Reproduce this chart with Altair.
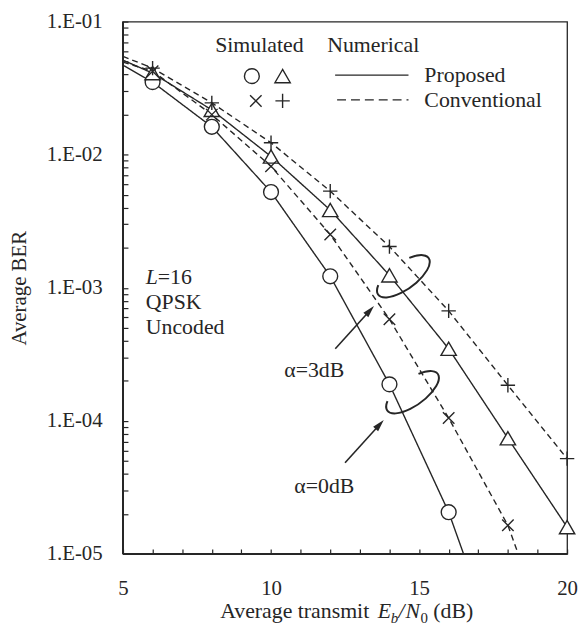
import altair as alt
import pandas as pd

FONT = "Liberation Serif"
INK = "#262626"
W, H = 448, 537

# ---- simulated points (Eb/N0 in dB, average BER) ----
sim_x = [6, 8, 10, 12, 14, 16, 18, 20]
sim_prop_a0 = [0.0351, 0.0162, 0.00524, 0.00122, 0.000188, 0.0000206]
sim_conv_a0 = [0.0424, 0.0200, 0.00817, 0.00251, 0.00058, 0.000105, 0.0000164]
sim_prop_a3 = [0.041, 0.0217, 0.0097, 0.00384, 0.00124, 0.000348, 0.000074, 0.0000159]
sim_conv_a3 = [0.0447, 0.0245, 0.0123, 0.00532, 0.00204, 0.00067, 0.000185, 0.000052]

# ---- numerical curves ----
num_prop_a0_x = [5, 6, 8, 10, 12, 14, 16, 17]
num_prop_a0 = [0.047, 0.0351, 0.0162, 0.00524, 0.00122, 0.000188, 0.0000206, 0.0000049]
num_conv_a0_x = [5, 6, 8, 10, 12, 14, 16, 18, 19]
num_conv_a0 = [0.0496, 0.0424, 0.0200, 0.00817, 0.00251, 0.00058, 0.000105, 0.0000164, 0.000004]
num_prop_a3_x = [5, 6, 8, 10, 12, 14, 16, 18, 20]
num_prop_a3 = [0.0513, 0.041, 0.0217, 0.0097, 0.00384, 0.00124, 0.000348, 0.000074, 0.0000159]
num_conv_a3_x = [5, 6, 8, 10, 12, 14, 16, 18, 20]
num_conv_a3 = [0.0548, 0.0447, 0.0245, 0.0123, 0.00532, 0.00204, 0.00067, 0.000185, 0.000052]

# ---- axis ticks ----
x_ticks = list(range(5, 21))
decades = [1e-5, 1e-4, 1e-3, 1e-2]
y_ticks = [m * d for d in decades for m in range(1, 10)] + [1e-1]

# ---- annotations (data coordinates) ----
ellipse_x = [14.47, 14.78]
ellipse_y = [0.00122, 0.000164]
arrow_x = [12.17, 12.50]
arrow_y = [0.000348, 0.0000484]
arrow_x2 = [13.34, 13.67]
arrow_y2 = [0.000675, 0.0000939]
label_x = [11.46, 11.80]
label_y = [0.000239, 0.0000321]
label_text = ["α=3dB", "α=0dB"]

rows = []
for name, method, xs, ys in [
    ("pa0", "Proposed", num_prop_a0_x, num_prop_a0),
    ("ca0", "Conventional", num_conv_a0_x, num_conv_a0),
    ("pa3", "Proposed", num_prop_a3_x, num_prop_a3),
    ("ca3", "Conventional", num_conv_a3_x, num_conv_a3),
]:
    for xv, yv in zip(xs, ys):
        rows.append({"x": xv, "ber": yv, "method": method, "curve": name})
lines_df = pd.DataFrame(rows)

xscale = alt.Scale(domain=[5, 20], nice=False, zero=False)
yscale = alt.Scale(type="log", domain=[1e-5, 1e-1], nice=False)

xaxis = alt.Axis(
    values=x_ticks, labelExpr="datum.value % 5 === 0 ? datum.label : ''",
    offset=-5, tickSize=5, tickWidth=1.2, tickColor=INK, domain=False, grid=False,
    labelFont=FONT, labelFontSize=21, labelColor=INK, labelPadding=24,
    labelOverlap=False, labelFlush=False, title=None,
)
yaxis = alt.Axis(
    values=y_ticks,
    labelExpr="abs(log(datum.value)/LN10 - round(log(datum.value)/LN10)) < 0.001 ? '1.E-0' + (-round(log(datum.value)/LN10)) : ''",
    offset=-5, tickSize=5, tickWidth=1.2, tickColor=INK, domain=False, grid=False,
    labelFont=FONT, labelFontSize=21, labelColor=INK, labelPadding=21,
    labelOverlap=False, labelFlush=False,
    title="Average BER", titleFont=FONT, titleFontSize=21, titleFontWeight="normal",
    titleColor=INK, titlePadding=17,
)

XE = alt.X("x:Q", scale=xscale, axis=xaxis)
YE = alt.Y("ber:Q", scale=yscale, axis=yaxis)

lines = alt.Chart(lines_df).mark_line(clip=True, strokeWidth=1.4, color=INK).encode(
    x=XE,
    y=YE,
    strokeDash=alt.StrokeDash(
        "method:N",
        scale=alt.Scale(domain=["Proposed", "Conventional"], range=[[1, 0], [6, 4]]),
        legend=None,
    ),
    detail="curve:N",
)

PLUS = "M-1,0L1,0M0,-1L0,1"
CROSS = "M-0.8,-0.8L0.8,0.8M-0.8,0.8L0.8,-0.8"


def markers(vals, shape, size, white=False):
    df = pd.DataFrame({"x": sim_x[: len(vals)], "ber": vals})
    if white:
        m = alt.Chart(df).mark_point(shape=shape, size=size, filled=True, fill="white",
                                     stroke=INK, strokeWidth=1.4, opacity=1)
    else:
        m = alt.Chart(df).mark_point(shape=shape, size=size, filled=False,
                                     stroke=INK, strokeWidth=1.4, opacity=1)
    return m.encode(x=XE, y=YE)


m_pa0 = markers(sim_prop_a0, "circle", 225, white=True)
m_pa3 = markers(sim_prop_a3, "triangle-up", 240, white=True)
m_ca0 = markers(sim_conv_a0, CROSS, 210)
m_ca3 = markers(sim_conv_a3, PLUS, 210)

ELLIPSE = "M0.5,-0.364A1,0.42 0 1 1 -0.819,-0.241"
ell = alt.Chart(pd.DataFrame({"x": ellipse_x, "ber": ellipse_y})).mark_point(
    shape=ELLIPSE, size=3960, angle=324, filled=False, stroke=INK, strokeWidth=2, opacity=1
).encode(x=XE, y=YE)

arrow_df = pd.DataFrame({"x": arrow_x, "ber": arrow_y, "x2": arrow_x2, "ber2": arrow_y2})
arrows = alt.Chart(arrow_df).mark_rule(strokeWidth=1.6, color=INK).encode(
    x=XE, y=YE, x2="x2:Q", y2="ber2:Q"
)
heads = alt.Chart(pd.DataFrame({"x": arrow_x2, "ber": arrow_y2})).mark_point(
    shape="M0,-1L-0.55,1L0.55,1Z", size=150, angle=42, filled=True, color=INK, opacity=1
).encode(x=XE, y=YE)

labels = alt.Chart(pd.DataFrame({"x": label_x, "ber": label_y, "t": label_text})).mark_text(
    font=FONT, fontSize=22, color=INK, align="center", baseline="middle"
).encode(x=XE, y=YE, text="t:N")

one = pd.DataFrame({"a": [0]})


def txt(s, px, py, size=21, italic=False, align="left", baseline="middle"):
    kw = dict(font=FONT, fontSize=size, color=INK, align=align, baseline=baseline, text=s)
    if italic:
        kw["fontStyle"] = "italic"
    return alt.Chart(one).mark_text(**kw).encode(x=alt.value(px), y=alt.value(py))


def pt(shape, px, py, size, white=False):
    if white:
        m = alt.Chart(one).mark_point(shape=shape, size=size, filled=True, fill="white",
                                      stroke=INK, strokeWidth=1.4, opacity=1)
    else:
        m = alt.Chart(one).mark_point(shape=shape, size=size, filled=False,
                                      stroke=INK, strokeWidth=1.4, opacity=1)
    return m.encode(x=alt.value(px), y=alt.value(py))


def hline(x1, x2, py, dash=None):
    kw = dict(color=INK, strokeWidth=1.4)
    if dash:
        kw["strokeDash"] = dash
    return alt.Chart(one).mark_rule(**kw).encode(
        x=alt.value(x1), x2=alt.value(x2), y=alt.value(py)
    )


legend = [
    txt("Simulated", 93, 24, size=22),
    txt("Numerical", 206, 24, size=22),
    pt("circle", 130, 55, 225, white=True),
    pt("triangle-up", 161, 55, 240, white=True),
    pt(CROSS, 134, 80, 210),
    pt(PLUS, 161, 80, 210),
    hline(214, 288, 54),
    hline(216, 288, 79, dash=[9, 5]),
    txt("Proposed", 304, 54, size=22),
    txt("Conventional", 304, 79, size=22),
]

info = [
    txt("L", 23, 258, size=22, italic=True),
    txt("=16", 35, 258, size=22),
    txt("QPSK", 23, 283, size=22),
    txt("Uncoded", 23, 308, size=22),
]

TY = 602
xtitle = [
    txt("Average transmit", 98, TY, size=22, baseline="alphabetic"),
    txt("E", 257, TY, size=22, italic=True, baseline="alphabetic"),
    txt("b", 270, TY + 5, size=15, italic=True, baseline="alphabetic"),
    txt("/", 278, TY, size=22, italic=True, baseline="alphabetic"),
    txt("N", 285, TY, size=22, italic=True, baseline="alphabetic"),
    txt("0", 300, TY + 5, size=15, baseline="alphabetic"),
    txt("(dB)", 313, TY, size=22, baseline="alphabetic"),
]

frame = [
    alt.Chart(one).mark_rule(color=INK, strokeWidth=2).encode(
        x=alt.value(0), y=alt.value(0), y2=alt.value(H)
    ),
    alt.Chart(one).mark_rule(color=INK, strokeWidth=2).encode(
        x=alt.value(0), x2=alt.value(W), y=alt.value(H)
    ),
]

chart = alt.layer(
    lines, m_pa0, m_pa3, m_ca0, m_ca3, ell, arrows, heads, labels,
    *legend, *info, *xtitle, *frame
).properties(
    width=W, height=H, padding=0, background="white"
).configure_view(stroke=INK, strokeWidth=1.3).configure_axis(labelOverlap=False)

chart.save("out.html", embed_options={"renderer": "svg", "actions": False})
